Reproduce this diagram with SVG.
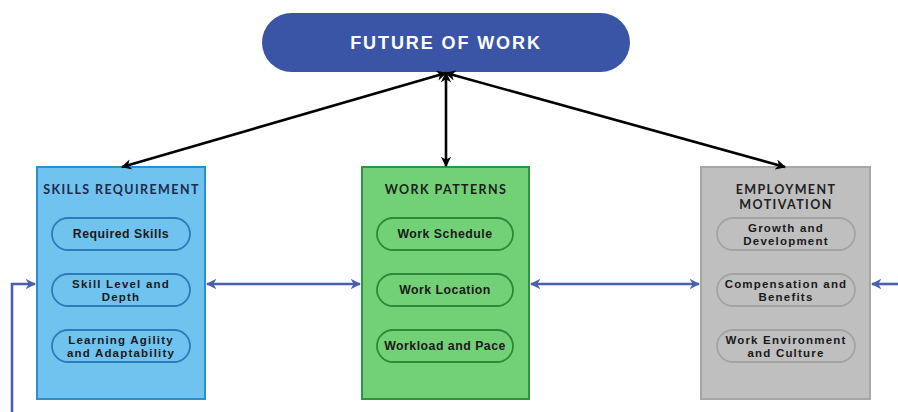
<svg xmlns="http://www.w3.org/2000/svg" width="898" height="412" viewBox="0 0 898 412">
  <defs>
    <marker id="headBlack" viewBox="0 0 10 10" refX="9" refY="5" markerWidth="4" markerHeight="4" orient="auto-start-reverse" markerUnits="strokeWidth">
      <path d="M0,0 L10,5 L0,10 L3,5 z" fill="#000"/>
    </marker>
    <marker id="headBlue" viewBox="0 0 10 10" refX="9" refY="5" markerWidth="4" markerHeight="4" orient="auto-start-reverse" markerUnits="strokeWidth">
      <path d="M0,0 L10,5 L0,10 L3,5 z" fill="#4a60ac"/>
    </marker>
    <style>
      .bg { fill: #ffffff; }
      .pill-top { fill: #3b55a6; }
      .top-text { font-family: "Liberation Sans", Arial, sans-serif; font-weight: bold; font-size: 18px; letter-spacing: 1.9px; fill: #ffffff; text-anchor: middle; }
      .title { font-family: Lato, "Liberation Sans", sans-serif; font-weight: bold; font-size: 12.5px; letter-spacing: 1.4px; text-anchor: middle; }
      .item { font-family: "Liberation Sans", Arial, sans-serif; font-weight: bold; font-size: 12.3px; letter-spacing: 0.5px; fill: #1a1a1a; text-anchor: middle; }
      .item2 { font-family: "Liberation Sans", Arial, sans-serif; font-weight: bold; font-size: 11.5px; letter-spacing: 1.2px; fill: #1a1a1a; text-anchor: middle; }
      .box { stroke-width: 2; }
      .sub { stroke-width: 1.8; }
      .skills .box { fill: #70c3ef; stroke: #2d8fc9; }
      .skills .sub { fill: #70c3ef; stroke: #2a7db6; }
      .skills .title { fill: #1e2b4a; }
      .patterns .box { fill: #72d077; stroke: #2f9440; }
      .patterns .sub { fill: #72d077; stroke: #2b8a36; }
      .patterns .title { fill: #1a1f1a; }
      .motivation .box { fill: #bfbfbf; stroke: #a6a6a6; }
      .motivation .sub { fill: #bfbfbf; stroke: #a3a3a3; }
      .motivation .title { fill: #222222; }
      .link-black { stroke: #000; stroke-width: 2.6; fill: none; marker-start: url(#headBlack); marker-end: url(#headBlack); }
      .link-blue { stroke: #4a60ac; stroke-width: 2.6; fill: none; }
    </style>
  </defs>

  <rect class="bg" x="0" y="0" width="898" height="412"/>

  <!-- Central theme -->
  <g id="future-of-work">
    <rect class="pill-top" x="262" y="13" width="368" height="59" rx="29.5"/>
    <text class="top-text" x="446" y="49">FUTURE OF WORK</text>
  </g>

  <!-- Skills requirement column -->
  <g id="skills-requirement" class="skills">
    <rect class="box" x="37" y="167" width="168" height="232"/>
    <text class="title" x="121.5" y="194">SKILLS REQUIREMENT</text>
    <g id="required-skills">
      <rect class="sub" x="52" y="218" width="138" height="32" rx="16"/>
      <text class="item" x="121" y="238">Required Skills</text>
    </g>
    <g id="skill-level-depth">
      <rect class="sub" x="52" y="274" width="138" height="32" rx="16"/>
      <text class="item2" x="121" y="287.5">Skill Level and</text>
      <text class="item2" x="121" y="300.5">Depth</text>
    </g>
    <g id="learning-agility">
      <rect class="sub" x="52" y="330" width="138" height="32" rx="16"/>
      <text class="item2" x="121" y="343.5">Learning Agility</text>
      <text class="item2" x="121" y="356.5">and Adaptability</text>
    </g>
  </g>

  <!-- Work patterns column -->
  <g id="work-patterns" class="patterns">
    <rect class="box" x="362" y="167" width="167" height="232"/>
    <text class="title" x="446" y="194">WORK PATTERNS</text>
    <g id="work-schedule">
      <rect class="sub" x="377" y="218" width="136" height="32" rx="16"/>
      <text class="item" x="445" y="238">Work Schedule</text>
    </g>
    <g id="work-location">
      <rect class="sub" x="377" y="274" width="136" height="32" rx="16"/>
      <text class="item" x="445" y="294">Work Location</text>
    </g>
    <g id="workload-pace">
      <rect class="sub" x="377" y="330" width="136" height="32" rx="16"/>
      <text class="item" x="445" y="350">Workload and Pace</text>
    </g>
  </g>

  <!-- Employment motivation column -->
  <g id="employment-motivation" class="motivation">
    <rect class="box" x="701" y="167" width="169" height="232"/>
    <text class="title" x="786" y="193.5">EMPLOYMENT</text>
    <text class="title" x="786" y="208.5">MOTIVATION</text>
    <g id="growth-development">
      <rect class="sub" x="717" y="218" width="138" height="32" rx="16"/>
      <text class="item2" x="786" y="231.5">Growth and</text>
      <text class="item2" x="786" y="244.5">Development</text>
    </g>
    <g id="compensation-benefits">
      <rect class="sub" x="717" y="274" width="138" height="32" rx="16"/>
      <text class="item2" x="786" y="287.5">Compensation and</text>
      <text class="item2" x="786" y="300.5">Benefits</text>
    </g>
    <g id="work-environment">
      <rect class="sub" x="717" y="330" width="138" height="32" rx="16"/>
      <text class="item2" x="786" y="343.5">Work Environment</text>
      <text class="item2" x="786" y="356.5">and Culture</text>
    </g>
  </g>

  <!-- Connectors -->
  <g id="connectors">
    <line class="link-black" x1="446" y1="73" x2="122" y2="167"/>
    <line class="link-black" x1="446" y1="73" x2="446" y2="166"/>
    <line class="link-black" x1="446" y1="73" x2="785" y2="167"/>
    <line class="link-blue" x1="207" y1="284" x2="360" y2="284" marker-start="url(#headBlue)" marker-end="url(#headBlue)"/>
    <line class="link-blue" x1="531" y1="284" x2="699" y2="284" marker-start="url(#headBlue)" marker-end="url(#headBlue)"/>
    <line class="link-blue" x1="898" y1="284" x2="872" y2="284" marker-end="url(#headBlue)"/>
    <path class="link-blue" d="M12,412 V284 H35" marker-end="url(#headBlue)"/>
  </g>
</svg>
